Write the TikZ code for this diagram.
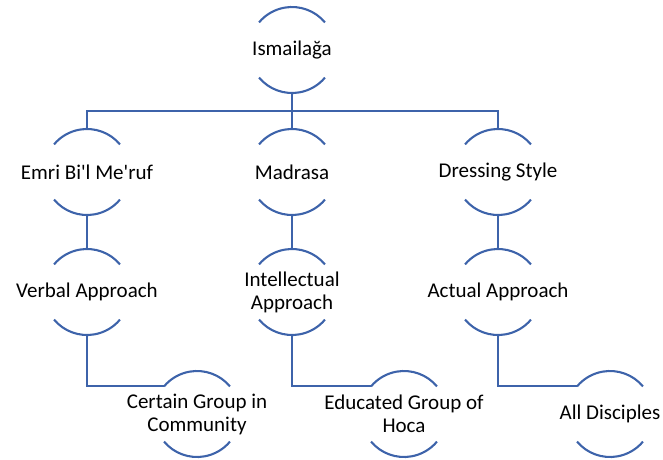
\documentclass[tikz,border=0pt]{standalone}
\usepackage{fontspec}
\setmainfont{Carlito}
\usetikzlibrary{positioning}

\definecolor{arcblue}{HTML}{3D63AA}

\begin{document}
\begin{tikzpicture}[x=1pt, y=1pt,
    unit/.style={circle, minimum size=86pt, inner sep=0pt, outer sep=0pt},
    lbl/.style={font=\fontsize{21}{23}\selectfont, align=center, inner sep=0pt},
    arcline/.style={draw=arcblue, line width=2.1pt},
    link/.style={draw=arcblue, line width=2.1pt}]
    % picture frame
    \useasboundingbox (0,0) rectangle (663,459);

    % top
    \node[unit, label={[lbl]center:Ismailağa}] (isma) at (292,409) {};

    % second row
    \node[unit, label={[lbl]center:Emri Bi\textquotesingle l Me\textquotesingle ruf}] (emri) at (87,287) {};
    \node[unit, label={[lbl]center:Madrasa}] (madrasa) at (292,287) {};
    \node[unit, label={[lbl]center:Dressing Style}] (dress) at (498,287) {};

    % third row
    \node[unit, label={[lbl]center:Verbal Approach}] (verbal) at (87,167) {};
    \node[unit, label={[lbl]center:{Intellectual\\Approach}}] (intel) at (292,167) {};
    \node[unit, label={[lbl]center:Actual Approach}] (actual) at (498,167) {};

    % bottom row
    \node[unit, label={[lbl]center:{Certain Group in\\Community}}] (certain) at (197,45) {};
    \node[unit, label={[lbl]center:{Educated Group of\\Hoca}}] (educ) at (404,45) {};
    \node[unit, label={[lbl]center:All Disciples}] (disc) at (610,45) {};

    % arcs above and below each text
    \foreach \n in {isma,emri,madrasa,dress,verbal,intel,actual,certain,educ,disc}
        \draw[arcline] (\n.40) arc[start angle=40, end angle=140, radius=43]
                       (\n.220) arc[start angle=220, end angle=320, radius=43];

    % bus under the top
    \coordinate (bus) at (0,348);
    \draw[link] (isma.south) -- (isma.south |- bus) -| (emri.north);
    \draw[link] (isma.south |- bus) -| (dress.north);
    \draw[link] (isma.south) -- (madrasa.north);

    % down to the third row
    \draw[link] (emri.south) -- (verbal.north);
    \draw[link] (madrasa.south) -- (intel.north);
    \draw[link] (dress.south) -- (actual.north);

    % elbows to the bottom row
    \draw[link] (verbal.south) |- (certain.140);
    \draw[link] (intel.south) |- (educ.140);
    \draw[link] (actual.south) |- (disc.140);
\end{tikzpicture}
\end{document}
